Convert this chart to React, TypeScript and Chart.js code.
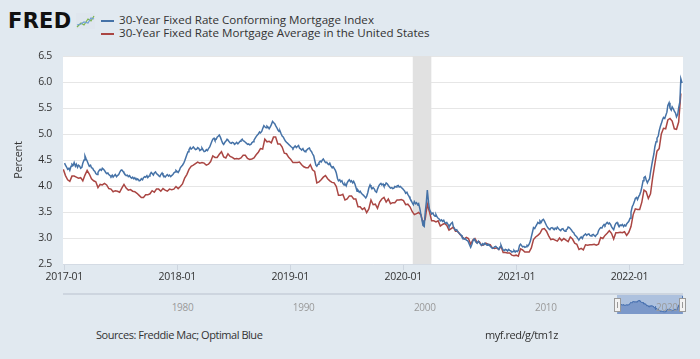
import React, { useEffect, useRef } from "react";
import { Chart, registerables } from "chart.js";

Chart.register(...registerables);

// ---------------- data ----------------
const xTickLabels = ["2017-01", "2018-01", "2019-01", "2020-01", "2021-01", "2022-01"];
const xTickDays = [0, 365, 730, 1095, 1461, 1826]; // days since 2017-01-01
const xMinDay = -4;
const xMaxDay = 1999;
const recessionDays = [1126, 1186]; // 2020-02-01 .. 2020-04-01

const yMin = 2.5;
const yMax = 6.5;
const yStep = 0.5;

// 30-Year Fixed Rate Mortgage Average (weekly, Thursdays, first 2016-12-29)
const redFirstDay = -3;
const red2016 = [4.32];
const red2017 = [
  4.20, 4.12, 4.09, 4.19, 4.19, 4.17, 4.15, 4.16, 4.10, 4.21, 4.30, 4.23, 4.14,
  4.10, 4.08, 3.97, 4.03, 4.02, 4.05, 4.02, 3.95, 3.94, 3.89, 3.91, 3.90, 3.88,
  3.96, 4.03, 3.96, 3.92, 3.93, 3.90, 3.89, 3.86, 3.82, 3.78, 3.78, 3.83, 3.83,
  3.85, 3.91, 3.88, 3.94, 3.94, 3.90, 3.95, 3.92, 3.90, 3.94, 3.93, 3.94, 3.99,
];
const red2018 = [
  3.95, 3.99, 4.04, 4.15, 4.22, 4.32, 4.38, 4.40, 4.43, 4.46, 4.44, 4.45, 4.44,
  4.40, 4.42, 4.47, 4.58, 4.55, 4.55, 4.61, 4.66, 4.56, 4.54, 4.62, 4.57, 4.55,
  4.52, 4.53, 4.52, 4.54, 4.59, 4.59, 4.53, 4.51, 4.52, 4.54, 4.60, 4.65, 4.72,
  4.71, 4.90, 4.85, 4.86, 4.83, 4.94, 4.94, 4.81, 4.81, 4.75, 4.63, 4.62, 4.55,
];
const red2019 = [
  4.51, 4.45, 4.45, 4.45, 4.46, 4.41, 4.37, 4.35, 4.35, 4.41, 4.31, 4.28, 4.06,
  4.08, 4.12, 4.17, 4.20, 4.14, 4.10, 4.07, 4.06, 3.99, 3.82, 3.82, 3.84, 3.73,
  3.75, 3.81, 3.81, 3.75, 3.75, 3.60, 3.60, 3.55, 3.58, 3.49, 3.56, 3.73, 3.64,
  3.65, 3.57, 3.69, 3.75, 3.78, 3.69, 3.75, 3.66, 3.68, 3.68, 3.73, 3.73, 3.74,
];
const red2020 = [
  3.72, 3.64, 3.65, 3.60, 3.51, 3.45, 3.47, 3.49, 3.45, 3.29, 3.36, 3.65, 3.50,
  3.33, 3.33, 3.31, 3.33, 3.23, 3.26, 3.28, 3.24, 3.15, 3.18, 3.21, 3.13, 3.13,
  3.07, 3.03, 2.98, 3.01, 2.99, 2.88, 2.96, 2.99, 2.91, 2.93, 2.86, 2.87, 2.90,
  2.88, 2.87, 2.81, 2.80, 2.81, 2.78, 2.84, 2.72, 2.72, 2.71, 2.71, 2.67, 2.66, 2.67,
];
const red2021 = [
  2.65, 2.79, 2.77, 2.73, 2.73, 2.73, 2.81, 2.97, 3.02, 3.05, 3.09, 3.17, 3.18,
  3.13, 3.04, 2.97, 2.98, 2.96, 2.94, 3.00, 2.95, 2.99, 2.96, 2.93, 3.02, 2.98,
  2.90, 2.88, 2.78, 2.80, 2.77, 2.87, 2.86, 2.87, 2.87, 2.88, 2.86, 2.88, 3.01,
  2.99, 3.05, 3.09, 3.14, 3.09, 2.98, 3.10, 3.10, 3.11, 3.10, 3.12, 3.05, 3.11,
];
const red2022 = [
  3.22, 3.45, 3.56, 3.55, 3.55, 3.69, 3.92, 3.89, 3.76, 3.85, 4.16, 4.42, 4.67,
  4.72, 5.00, 5.11, 5.10, 5.27, 5.30, 5.25, 5.10, 5.09, 5.23, 5.78,
];

// 30-Year Fixed Rate Conforming Mortgage Index (Mon & Thu, first Mon 2017-01-02)
const blueFirstDay = 1;
const blue2017 = [
  4.44, 4.40, 4.36, 4.32, 4.34, 4.30, 4.38, 4.42,
  4.40, 4.45, 4.38, 4.42, 4.36, 4.40, 4.38, 4.34,
  4.36, 4.44, 4.50, 4.58, 4.52, 4.48, 4.42, 4.38,
  4.40, 4.35, 4.34, 4.30, 4.28, 4.24, 4.22, 4.26,
  4.30, 4.32, 4.30, 4.34, 4.32, 4.30, 4.26, 4.24,
  4.25, 4.22, 4.20, 4.18, 4.21, 4.17, 4.20, 4.22,
  4.18, 4.20, 4.22, 4.26, 4.30, 4.31, 4.28, 4.25,
  4.22, 4.20, 4.21, 4.18, 4.20, 4.17, 4.15, 4.17,
  4.14, 4.16, 4.12, 4.14, 4.13, 4.10, 4.11, 4.14,
  4.12, 4.16, 4.18, 4.17, 4.20, 4.16, 4.19, 4.22,
  4.26, 4.24, 4.21, 4.25, 4.27, 4.24, 4.22, 4.20,
  4.18, 4.22, 4.25, 4.21, 4.19, 4.17, 4.20, 4.22,
  4.19, 4.21, 4.18, 4.20, 4.22, 4.25, 4.27, 4.30,
];
const blue2018 = [
  4.28, 4.26, 4.30, 4.35, 4.38, 4.40, 4.44, 4.48,
  4.55, 4.60, 4.66, 4.70, 4.74, 4.71, 4.73, 4.75,
  4.72, 4.70, 4.71, 4.74, 4.72, 4.68, 4.70, 4.73,
  4.69, 4.66, 4.67, 4.70, 4.68, 4.72, 4.75, 4.80,
  4.86, 4.90, 4.92, 4.88, 4.90, 4.94, 4.96, 4.98,
  4.93, 4.88, 4.82, 4.80, 4.84, 4.86, 4.90, 4.88,
  4.85, 4.83, 4.82, 4.84, 4.83, 4.80, 4.82, 4.84,
  4.81, 4.83, 4.86, 4.88, 4.90, 4.87, 4.86, 4.84,
  4.82, 4.80, 4.81, 4.79, 4.80, 4.83, 4.85, 4.88,
  4.92, 4.95, 4.98, 5.00, 5.04, 5.02, 5.05, 5.10,
  5.16, 5.14, 5.12, 5.15, 5.13, 5.10, 5.14, 5.18,
  5.24, 5.22, 5.20, 5.16, 5.12, 5.08, 5.05, 5.06,
  5.00, 4.96, 4.94, 4.90, 4.86, 4.84, 4.82, 4.80,
  4.78, 4.76,
];
const blue2019 = [
  4.74, 4.72, 4.75, 4.77, 4.74, 4.76, 4.78, 4.73,
  4.71, 4.69, 4.72, 4.68, 4.66, 4.68, 4.70, 4.72,
  4.73, 4.69, 4.66, 4.62, 4.58, 4.50, 4.40, 4.38,
  4.42, 4.45, 4.48, 4.46, 4.50, 4.52, 4.48, 4.45,
  4.46, 4.43, 4.41, 4.44, 4.38, 4.36, 4.37, 4.34,
  4.30, 4.25, 4.14, 4.10, 4.12, 4.08, 4.10, 4.05,
  4.02, 4.04, 4.00, 4.06, 4.10, 4.12, 4.08, 4.10,
  4.06, 4.09, 4.04, 3.98, 3.90, 3.92, 3.88, 3.90,
  3.86, 3.84, 3.82, 3.80, 3.77, 3.80, 3.88, 3.96,
  4.02, 3.98, 3.95, 3.97, 3.94, 3.90, 3.88, 3.94,
  4.00, 4.03, 4.05, 4.02, 4.04, 4.00, 4.02, 4.06,
  4.04, 4.01, 3.98, 3.96, 3.97, 3.95, 3.96, 3.99,
  3.98, 4.00, 4.01, 3.98, 3.99, 3.97, 3.95, 3.93,
];
const blue2020 = [
  3.90, 3.86, 3.88, 3.84, 3.80, 3.76, 3.72, 3.68,
  3.64, 3.70, 3.66, 3.68, 3.64, 3.66, 3.56, 3.46,
  3.34, 3.24, 3.22, 3.48, 3.70, 3.92, 3.68, 3.55,
  3.50, 3.46, 3.48, 3.44, 3.42, 3.45, 3.40, 3.38,
  3.36, 3.33, 3.35, 3.32, 3.34, 3.30, 3.28, 3.30,
  3.26, 3.22, 3.25, 3.28, 3.30, 3.22, 3.18, 3.15,
  3.16, 3.12, 3.10, 3.08, 3.06, 3.02, 3.00, 2.98,
  2.99, 2.96, 2.95, 2.92, 2.86, 2.82, 2.88, 2.94,
  2.98, 2.95, 2.92, 2.90, 2.94, 2.91, 2.88, 2.86,
  2.89, 2.87, 2.90, 2.88, 2.86, 2.88, 2.87, 2.84,
  2.82, 2.80, 2.81, 2.83, 2.84, 2.82, 2.80, 2.78,
  2.83, 2.86, 2.80, 2.77, 2.76, 2.78, 2.77, 2.75,
  2.78, 2.76, 2.75, 2.73, 2.74, 2.76, 2.73, 2.75,
];
const blue2021 = [
  2.74, 2.76, 2.86, 2.88, 2.85, 2.83, 2.84, 2.82,
  2.83, 2.86, 2.85, 2.88, 2.94, 3.02, 3.12, 3.20,
  3.18, 3.22, 3.26, 3.30, 3.28, 3.33, 3.30, 3.34,
  3.36, 3.33, 3.28, 3.24, 3.20, 3.18, 3.16, 3.19,
  3.20, 3.18, 3.16, 3.19, 3.17, 3.21, 3.18, 3.16,
  3.14, 3.17, 3.18, 3.15, 3.13, 3.15, 3.17, 3.21,
  3.20, 3.18, 3.15, 3.12, 3.10, 3.06, 3.04, 3.02,
  2.98, 2.97, 3.00, 3.02, 2.99, 3.04, 3.06, 3.08,
  3.05, 3.07, 3.08, 3.05, 3.04, 3.06, 3.07, 3.05,
  3.03, 3.06, 3.08, 3.14, 3.18, 3.20, 3.19, 3.23,
  3.26, 3.24, 3.28, 3.30, 3.27, 3.29, 3.26, 3.22,
  3.18, 3.16, 3.24, 3.28, 3.30, 3.26, 3.22, 3.25,
  3.24, 3.26, 3.22, 3.25, 3.23, 3.27, 3.30, 3.32,
];
const blue2022 = [
  3.38, 3.50, 3.60, 3.64, 3.70, 3.76, 3.78, 3.74,
  3.80, 3.83, 3.90, 3.98, 4.10, 4.16, 4.18, 4.12,
  4.06, 4.10, 4.14, 4.26, 4.40, 4.50, 4.62, 4.75,
  4.85, 4.92, 4.96, 5.06, 5.15, 5.20, 5.28, 5.32,
  5.30, 5.35, 5.42, 5.55, 5.60, 5.50, 5.46, 5.52,
  5.48, 5.44, 5.40, 5.33, 5.38, 5.50, 5.62, 6.06,
  5.98,
];

// navigator (whole history axis, years)
const navYears = [1980, 1990, 2000, 2010, 2020];
const navStartYear = 1971.27;
const navEndYear = 2022.47;
const navSelStartYear = 2017.0;

const legendLabels = [
  "30-Year Fixed Rate Conforming Mortgage Index",
  "30-Year Fixed Rate Mortgage Average in the United States",
];
const sourceText = "Sources: Freddie Mac; Optimal Blue";
const urlText = "myf.red/g/tm1z";

// ---------------- styling ----------------
const FONT = "'Open Sans', 'DejaVu Sans', sans-serif";
const BG = "#e1e9f0";
const BLUE = "#4572a7";
const RED = "#aa4643";
const TEXT = "#333333";

const redValues = [...red2016, ...red2017, ...red2018, ...red2019, ...red2020, ...red2021, ...red2022];
const blueValues = [...blue2017, ...blue2018, ...blue2019, ...blue2020, ...blue2021, ...blue2022];
const redPoints = redValues.map((y, i) => ({ x: redFirstDay + 7 * i, y }));
const bluePoints = blueValues.map((y, i) => ({
  x: blueFirstDay + 7 * Math.floor(i / 2) + (i % 2) * 3,
  y,
}));

const PLOT_L = 63;
const PLOT_R = 683;
const PLOT_T = 56;
const PLOT_B = 264;
const CANVAS_H = 290;

const NAV_L = 63;
const NAV_R = 683;
const navX = (yr: number) => NAV_L + ((yr - navStartYear) / (navEndYear - navStartYear)) * (NAV_R - NAV_L);

const plotPlugin = {
  id: "plotDecor",
  beforeDraw(chart: any) {
    const { ctx, chartArea } = chart;
    ctx.save();
    ctx.fillStyle = "#ffffff";
    ctx.fillRect(chartArea.left, chartArea.top, chartArea.right - chartArea.left, chartArea.bottom - chartArea.top);
    ctx.restore();
    (ctx as any).letterSpacing = "-0.3px";
  },
  beforeDatasetsDraw(chart: any) {
    const { ctx, chartArea, scales } = chart;
    const x0 = scales.x.getPixelForValue(recessionDays[0]);
    const x1 = scales.x.getPixelForValue(recessionDays[1]);
    ctx.save();
    ctx.fillStyle = "#e1e1e1";
    ctx.fillRect(x0, chartArea.top, x1 - x0, chartArea.bottom - chartArea.top);
    ctx.restore();
  },
};

export default function App() {
  const mainRef = useRef<HTMLCanvasElement>(null);
  const navRef = useRef<HTMLCanvasElement>(null);

  const selL = Math.round(navX(navSelStartYear));
  const selR = NAV_R;

  useEffect(() => {
    const main = new Chart(mainRef.current as HTMLCanvasElement, {
      type: "line",
      data: {
        datasets: [
          {
            label: legendLabels[0],
            data: bluePoints,
            borderColor: BLUE,
            borderWidth: 1.5,
            pointRadius: 0,
            tension: 0,
            fill: false,
          },
          {
            label: legendLabels[1],
            data: redPoints,
            borderColor: RED,
            borderWidth: 1.5,
            pointRadius: 0,
            tension: 0,
            fill: false,
          },
        ],
      },
      options: {
        animation: false,
        responsive: false,
        maintainAspectRatio: false,
        layout: { padding: { top: PLOT_T, right: 700 - PLOT_R, left: 0, bottom: 0 } },
        plugins: { legend: { display: false }, tooltip: { enabled: false } },
        scales: {
          x: {
            type: "linear",
            min: xMinDay,
            max: xMaxDay,
            afterBuildTicks: (s: any) => {
              s.ticks = xTickDays.map((v) => ({ value: v }));
            },
            afterFit: (s: any) => {
              s.height = CANVAS_H - PLOT_B;
            },
            ticks: {
              autoSkip: false,
              maxRotation: 0,
              minRotation: 0,
              color: TEXT,
              font: { family: FONT, size: 10.5 },
              padding: 1,
              callback: (v: any) => {
                const i = xTickDays.indexOf(Number(v));
                return i >= 0 ? xTickLabels[i] : "";
              },
            },
            grid: { drawOnChartArea: false, drawTicks: true, tickLength: 6, color: "#cdd5df" },
            border: { display: true, color: "#d4dbe4" },
          },
          y: {
            min: yMin,
            max: yMax,
            afterFit: (s: any) => {
              s.width = PLOT_L;
            },
            ticks: {
              stepSize: yStep,
              color: TEXT,
              font: { family: FONT, size: 10.5 },
              padding: 11,
              callback: (v: any) => Number(v).toFixed(1),
            },
            grid: { color: "#e6e6e6", drawTicks: false, lineWidth: 1 },
            border: { display: false },
            title: {
              display: true,
              text: "Percent",
              color: TEXT,
              font: { family: FONT, size: 11 },
              padding: { top: 12, bottom: 0 },
            },
          },
        },
      },
      plugins: [plotPlugin],
    } as any);

    const nav = new Chart(navRef.current as HTMLCanvasElement, {
      type: "line",
      data: {
        datasets: [
          {
            data: bluePoints,
            borderColor: "#4a72b0",
            borderWidth: 1,
            backgroundColor: "rgba(82,118,184,0.55)",
            fill: "start",
            pointRadius: 0,
            tension: 0,
          },
        ],
      },
      options: {
        animation: false,
        responsive: false,
        maintainAspectRatio: false,
        layout: { padding: 0 },
        plugins: { legend: { display: false }, tooltip: { enabled: false } },
        scales: {
          x: { type: "linear", min: xMinDay, max: xMaxDay, display: false },
          y: { min: 2.3, max: 6.3, display: false },
        },
      },
    } as any);

    return () => {
      main.destroy();
      nav.destroy();
    };
  }, []);

  const txt = (extra: React.CSSProperties): React.CSSProperties => ({
    position: "absolute",
    whiteSpace: "nowrap",
    fontFamily: FONT,
    color: TEXT,
    ...extra,
  });

  return (
    <div
      style={{
        position: "absolute",
        left: 0,
        top: 0,
        width: 700,
        height: 359,
        background: BG,
        overflow: "hidden",
      }}
    >
      {/* FRED logo */}
      <div
        style={txt({
          left: 8,
          top: 10.5,
          fontFamily: "'DejaVu Sans', sans-serif",
          fontWeight: 900,
          fontSize: 21,
          lineHeight: "21px",
          letterSpacing: 0.3,
          color: "#111",
        })}
      >
        FRED
      </div>
      <svg style={{ position: "absolute", left: 76, top: 13 }} width={19} height={16}>
        <rect x={0} y={0} width={19} height={16} fill="#dfe6ee" />
        <polyline points="1,14 5,10 8,12 12,6 15,8 18,3" fill="none" stroke="#7db54a" strokeWidth={1.2} />
        <polyline points="1,12 5,11 8,9 12,10 15,5 18,6" fill="none" stroke="#6f9fd3" strokeWidth={1.2} />
      </svg>

      {/* legend */}
      <div style={{ position: "absolute", left: 101, top: 20, width: 13, height: 2, background: BLUE }} />
      <div style={{ position: "absolute", left: 101, top: 33, width: 13, height: 2, background: RED }} />
      <div style={txt({ left: 119, top: 13, fontSize: 11.6, lineHeight: "14px" })}>{legendLabels[0]}</div>
      <div style={txt({ left: 119, top: 26.4, fontSize: 11.6, lineHeight: "14px" })}>{legendLabels[1]}</div>

      {/* main chart */}
      <canvas
        ref={mainRef}
        width={700}
        height={CANVAS_H}
        style={{ position: "absolute", left: 0, top: 0, width: 700, height: CANVAS_H, display: "block" }}
      />

      {/* navigator */}
      <div style={{ position: "absolute", left: NAV_L, top: 293, width: NAV_R - NAV_L, height: 2, background: "#cdd5df" }} />
      <div style={{ position: "absolute", left: selL, top: 295, width: selR - selL, height: 19, background: "#adc1de" }} />
      <canvas
        ref={navRef}
        width={selR - selL}
        height={19}
        style={{ position: "absolute", left: selL, top: 295, width: selR - selL, height: 19, display: "block" }}
      />
      {navYears.map((yr) => (
        <div
          key={yr}
          style={txt({
            left: navX(yr) + 3,
            top: 300.5,
            fontSize: 10,
            lineHeight: "13px",
            color: "#9a9a9a",
            letterSpacing: -0.3,
          })}
        >
          {yr}
        </div>
      ))}
      {[selL - 3, selR - 4].map((hx, i) => (
        <div
          key={i}
          style={{
            position: "absolute",
            left: hx,
            top: 298,
            width: 5,
            height: 12,
            background: "#f2f2f2",
            border: "1px solid #999",
          }}
        >
          <div style={{ position: "absolute", left: 2, top: 3, width: 1, height: 6, background: "#999" }} />
        </div>
      ))}

      {/* footer */}
      <div style={txt({ left: 96, top: 327, fontSize: 11, lineHeight: "15px", letterSpacing: -0.45 })}>
        {sourceText}
      </div>
      <div style={txt({ left: 485, top: 327, fontSize: 11, lineHeight: "15px", letterSpacing: -0.45 })}>
        {urlText}
      </div>
    </div>
  );
}
